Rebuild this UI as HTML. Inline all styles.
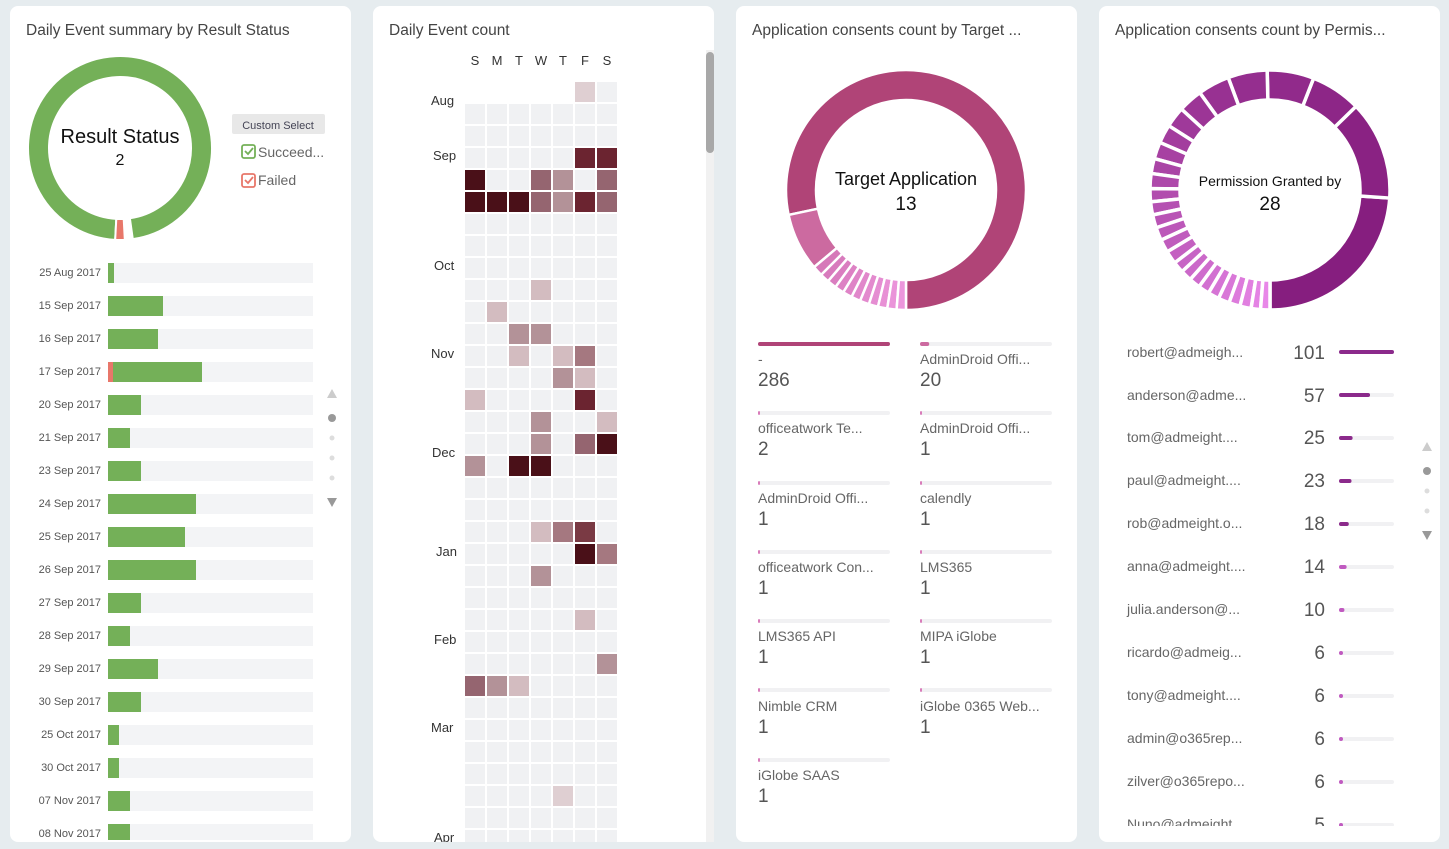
<!DOCTYPE html>
<html><head><meta charset="utf-8"><style>
html,body{margin:0;padding:0;background:#e6ecef;}
svg{display:block;font-family:"Liberation Sans",sans-serif;}
</style></head><body>
<svg id="s" width="1449" height="849" xmlns="http://www.w3.org/2000/svg">
<defs>
<clipPath id="c1"><rect x="10" y="250" width="341" height="590"/></clipPath>
<clipPath id="c2"><rect x="373" y="40" width="341" height="802"/></clipPath>
<clipPath id="c4"><rect x="1099" y="330" width="341" height="496"/></clipPath>
</defs>
<rect width="1449" height="849" fill="#e6ecef"/>
<rect x="10" y="6" width="341" height="836" rx="8" fill="#fff"/>
<rect x="373" y="6" width="341" height="836" rx="8" fill="#fff"/>
<rect x="736" y="6" width="341" height="836" rx="8" fill="#fff"/>
<rect x="1099" y="6" width="341" height="836" rx="8" fill="#fff"/>

<g font-size="15.5" fill="#444">
<text x="26" y="35">Daily Event summary by Result Status</text>
<text x="389" y="35">Daily Event count</text>
<text x="752" y="35">Application consents count by Target ...</text>
<text x="1115" y="35">Application consents count by Permis...</text>
</g>

<g id="d1"></g>
<text x="120" y="143" text-anchor="middle" font-size="20" fill="#111">Result Status</text>
<text x="120" y="165" text-anchor="middle" font-size="16" fill="#111">2</text>
<rect x="232" y="114" width="93" height="20" rx="2" fill="#e8e8e8"/>
<text x="278" y="129" text-anchor="middle" font-size="11" fill="#445">Custom Select</text>
<rect x="242" y="145" width="13" height="13" rx="2" fill="#fff" stroke="#74b058" stroke-width="1.8"/>
<path d="M245 151 l3 3 l5 -6" fill="none" stroke="#74b058" stroke-width="1.8"/>
<text x="258" y="157" font-size="14" fill="#666">Succeed...</text>
<rect x="242" y="174" width="13" height="13" rx="2" fill="#fff" stroke="#e8776a" stroke-width="1.8"/>
<path d="M245 180 l3 3 l5 -6" fill="none" stroke="#e8776a" stroke-width="1.8"/>
<text x="258" y="185" font-size="14" fill="#666">Failed</text>
<g id="bars" clip-path="url(#c1)" font-size="11" fill="#555">
<text x="101" y="276" text-anchor="end">25 Aug 2017</text>
<text x="101" y="309" text-anchor="end">15 Sep 2017</text>
<text x="101" y="342" text-anchor="end">16 Sep 2017</text>
<text x="101" y="375" text-anchor="end">17 Sep 2017</text>
<text x="101" y="408" text-anchor="end">20 Sep 2017</text>
<text x="101" y="441" text-anchor="end">21 Sep 2017</text>
<text x="101" y="474" text-anchor="end">23 Sep 2017</text>
<text x="101" y="507" text-anchor="end">24 Sep 2017</text>
<text x="101" y="540" text-anchor="end">25 Sep 2017</text>
<text x="101" y="573" text-anchor="end">26 Sep 2017</text>
<text x="101" y="606" text-anchor="end">27 Sep 2017</text>
<text x="101" y="639" text-anchor="end">28 Sep 2017</text>
<text x="101" y="672" text-anchor="end">29 Sep 2017</text>
<text x="101" y="705" text-anchor="end">30 Sep 2017</text>
<text x="101" y="738" text-anchor="end">25 Oct 2017</text>
<text x="101" y="771" text-anchor="end">30 Oct 2017</text>
<text x="101" y="804" text-anchor="end">07 Nov 2017</text>
<text x="101" y="837" text-anchor="end">08 Nov 2017</text>
</g>
<path d="M327 398 l5 -9 l5 9z" fill="#ccc"/>
<circle cx="332" cy="418" r="4" fill="#999"/>
<circle cx="332" cy="438" r="2.5" fill="#ddd"/>
<circle cx="332" cy="458" r="2.5" fill="#ddd"/>
<circle cx="332" cy="478" r="2.5" fill="#ddd"/>
<path d="M327 498 l5 9 l5 -9z" fill="#999"/>

<g font-size="13" fill="#333" text-anchor="middle">
<text x="475" y="65">S</text><text x="497" y="65">M</text><text x="519" y="65">T</text><text x="541" y="65">W</text><text x="563" y="65">T</text><text x="585" y="65">F</text><text x="607" y="65">S</text>
</g>
<g font-size="13" fill="#333" clip-path="url(#c2)">
<text x="431" y="105">Aug</text><text x="433" y="160">Sep</text><text x="434" y="270">Oct</text><text x="431" y="358">Nov</text><text x="432" y="457">Dec</text><text x="436" y="556">Jan</text><text x="434" y="644">Feb</text><text x="431" y="732">Mar</text><text x="434" y="842">Apr</text>
</g>
<g id="heat" clip-path="url(#c2)"></g>
<rect x="706" y="50" width="8" height="792" fill="#f1f1f1"/>
<rect x="706" y="52" width="8" height="101" rx="4" fill="#a8a8a8"/>

<g id="d3"></g>
<text x="906" y="185" text-anchor="middle" font-size="18" fill="#111">Target Application</text>
<text x="906" y="210" text-anchor="middle" font-size="19" fill="#111">13</text>
<g id="l3"></g>
<g font-size="14" fill="#666">
<text x="758" y="364">-</text><text x="920" y="364">AdminDroid Offi...</text>
<text x="758" y="433">officeatwork Te...</text><text x="920" y="433">AdminDroid Offi...</text>
<text x="758" y="503">AdminDroid Offi...</text><text x="920" y="503">calendly</text>
<text x="758" y="572">officeatwork Con...</text><text x="920" y="572">LMS365</text>
<text x="758" y="641">LMS365 API</text><text x="920" y="641">MIPA iGlobe</text>
<text x="758" y="711">Nimble CRM</text><text x="920" y="711">iGlobe 0365 Web...</text>
<text x="758" y="780">iGlobe SAAS</text>
</g>
<g font-size="19" fill="#555">
<text x="758" y="386">286</text><text x="920" y="386">20</text>
<text x="758" y="455">2</text><text x="920" y="455">1</text>
<text x="758" y="525">1</text><text x="920" y="525">1</text>
<text x="758" y="594">1</text><text x="920" y="594">1</text>
<text x="758" y="663">1</text><text x="920" y="663">1</text>
<text x="758" y="733">1</text><text x="920" y="733">1</text>
<text x="758" y="802">1</text>
</g>

<g id="d4"></g>
<text x="1270" y="186" text-anchor="middle" font-size="14" fill="#111">Permission Granted by</text>
<text x="1270" y="210" text-anchor="middle" font-size="19" fill="#111">28</text>
<g clip-path="url(#c4)">
<g id="l4"></g>
<g font-size="14" fill="#666">
<text x="1127" y="357">robert@admeigh...</text>
<text x="1127" y="400">anderson@adme...</text>
<text x="1127" y="442">tom@admeight....</text>
<text x="1127" y="485">paul@admeight....</text>
<text x="1127" y="528">rob@admeight.o...</text>
<text x="1127" y="571">anna@admeight....</text>
<text x="1127" y="614">julia.anderson@...</text>
<text x="1127" y="657">ricardo@admeig...</text>
<text x="1127" y="700">tony@admeight....</text>
<text x="1127" y="743">admin@o365rep...</text>
<text x="1127" y="786">zilver@o365repo...</text>
<text x="1127" y="829">Nuno@admeight</text>
</g>
<g font-size="19" fill="#555" text-anchor="end">
<text x="1325" y="359">101</text><text x="1325" y="402">57</text><text x="1325" y="444">25</text><text x="1325" y="487">23</text><text x="1325" y="530">18</text><text x="1325" y="573">14</text><text x="1325" y="616">10</text><text x="1325" y="659">6</text><text x="1325" y="702">6</text><text x="1325" y="745">6</text><text x="1325" y="788">6</text><text x="1325" y="831">5</text>
</g>
</g>
<path d="M1422 451 l5 -9 l5 9z" fill="#ccc"/>
<circle cx="1427" cy="471" r="4" fill="#999"/>
<circle cx="1427" cy="491" r="2.5" fill="#ddd"/>
<circle cx="1427" cy="511" r="2.5" fill="#ddd"/>
<path d="M1422 531 l5 9 l5 -9z" fill="#999"/>
</svg>
<script>
var NS="http://www.w3.org/2000/svg";
function el(p,t,a){var e=document.createElementNS(NS,t);for(var k in a)e.setAttribute(k,a[k]);p.appendChild(e);return e;}
function pt(cx,cy,r,a){var t=a*Math.PI/180;return [cx+r*Math.sin(t),cy-r*Math.cos(t)];}
function arc(g,cx,cy,R,r,a0,a1,col,sw){
 var l=(a1-a0)>180?1:0,p1=pt(cx,cy,R,a0),p2=pt(cx,cy,R,a1),p3=pt(cx,cy,r,a1),p4=pt(cx,cy,r,a0);
 el(g,'path',{d:'M'+p1+' A'+R+' '+R+' 0 '+l+' 1 '+p2+' L'+p3+' A'+r+' '+r+' 0 '+l+' 0 '+p4+'Z',fill:col,stroke:'#fff','stroke-width':sw});}
function donut(id,cx,cy,R,r,vals,cols,sw){
 var g=document.getElementById(id),s=vals.reduce(function(a,b){return a+b},0),c=0;
 vals.forEach(function(v,i){var a1=180-c/s*360,a0=180-(c+v)/s*360;arc(g,cx,cy,R,r,a0,a1,cols[i],sw);c+=v;});}
function mix(a,b,t){var r=[];for(var i=0;i<3;i++)r.push(Math.round(a[i]+(b[i]-a[i])*t));return 'rgb('+r+')';}
(function(){var g=document.getElementById('d1');arc(g,120,148,92,71,-177,172,'#74b058',2);arc(g,120,148,92,71,-183,-177,'#e8776a',2);})();
(function(){var g=document.getElementById('bars');var w=[6,55,50,94,33,22,33,88,77,88,33,22,50,33,11,11,22,22];
 w.forEach(function(v,i){var y=263+33*i;el(g,'rect',{x:108,y:y,width:205,height:20,fill:'#f3f4f6'});
 if(i==3){el(g,'rect',{x:108,y:y,width:5,height:20,fill:'#e8776a'});el(g,'rect',{x:113,y:y,width:89,height:20,fill:'#74b058'});}
 else el(g,'rect',{x:108,y:y,width:v,height:20,fill:'#74b058'});});})();
(function(){var g=document.getElementById('heat');
 var C={L:'#d3bcc0',V:'#dfcfd2',M:'#b39298',N:'#a57880',D:'#956570',K:'#7a3a44',X:'#6b2430',Z:'#4a1018'};
 var rows={0:'_____V.',3:'.....XX',4:'Z..DM.D',5:'ZZZDMXD',9:'...L...',10:'.L.....',11:'..MM...',12:'..L.LN.',13:'....ML.',14:'L....X.',15:'...M..L',16:'...M.DZ',17:'M.ZZ...',20:'...LNK.',21:'.....ZN',22:'...M...',24:'.....L.',26:'......M',27:'DML....',32:'....V..'};
 for(var r=0;r<35;r++){var s=rows[r]||'.......';for(var c=0;c<7;c++){var ch=s[c];if(ch=='_')continue;
 el(g,'rect',{x:465+22*c,y:82+22*r,width:20,height:20,fill:C[ch]||'#f0f1f3'});}}})();
(function(){var v=[282,28,5,4.5,4.5,4.5,4.5,4.5,4.5,4.5,4.5,4.5,4.5],cols=['#b04477','#cc6aa0'];for(var i=2;i<13;i++)cols.push(mix([214,120,185],[236,150,220],(i-2)/10));
 donut('d3',906,190,120,90,v,cols,2.5);
 var g=document.getElementById('l3');var items=[[758,344,286],[920,344,20],[758,413,2],[920,413,1],[758,483,1],[920,483,1],[758,552,1],[920,552,1],[758,621,1],[920,621,1],[758,690,1],[920,690,1],[758,760,1]];
 items.forEach(function(it,i){el(g,'rect',{x:it[0],y:it[1]-2,width:132,height:4,rx:2,fill:'#f1f1f3'});
 el(g,'rect',{x:it[0],y:it[1]-2,width:Math.max(2,132*it[2]/286),height:4,rx:2,fill:i==0?'#b04477':(i==1?'#cc6aa0':'#d878b8')});});})();
(function(){var v=[95,53,27,25,21,17,13,11,10,9,8,8,7,7,7,7,7,7,6,6,6,6,6,6,6,6,5,5],cols=[];
 for(var i=0;i<v.length;i++)cols.push(mix([134,30,127],[232,135,232],i/(v.length-1)));
 donut('d4',1270,190,120,90,v,cols,3.5);
 var g=document.getElementById('l4');var vals=[101,57,25,23,18,14,10,6,6,6,6,5];
 vals.forEach(function(x,i){var y=352+43*i;el(g,'rect',{x:1339,y:y-2,width:55,height:4,rx:2,fill:'#f1f1f3'});
 el(g,'rect',{x:1339,y:y-2,width:Math.max(4,55*x/101),height:4,rx:2,fill:i<5?'#8b2a8b':'#c05ac0'});});})();
</script>
</body></html>
